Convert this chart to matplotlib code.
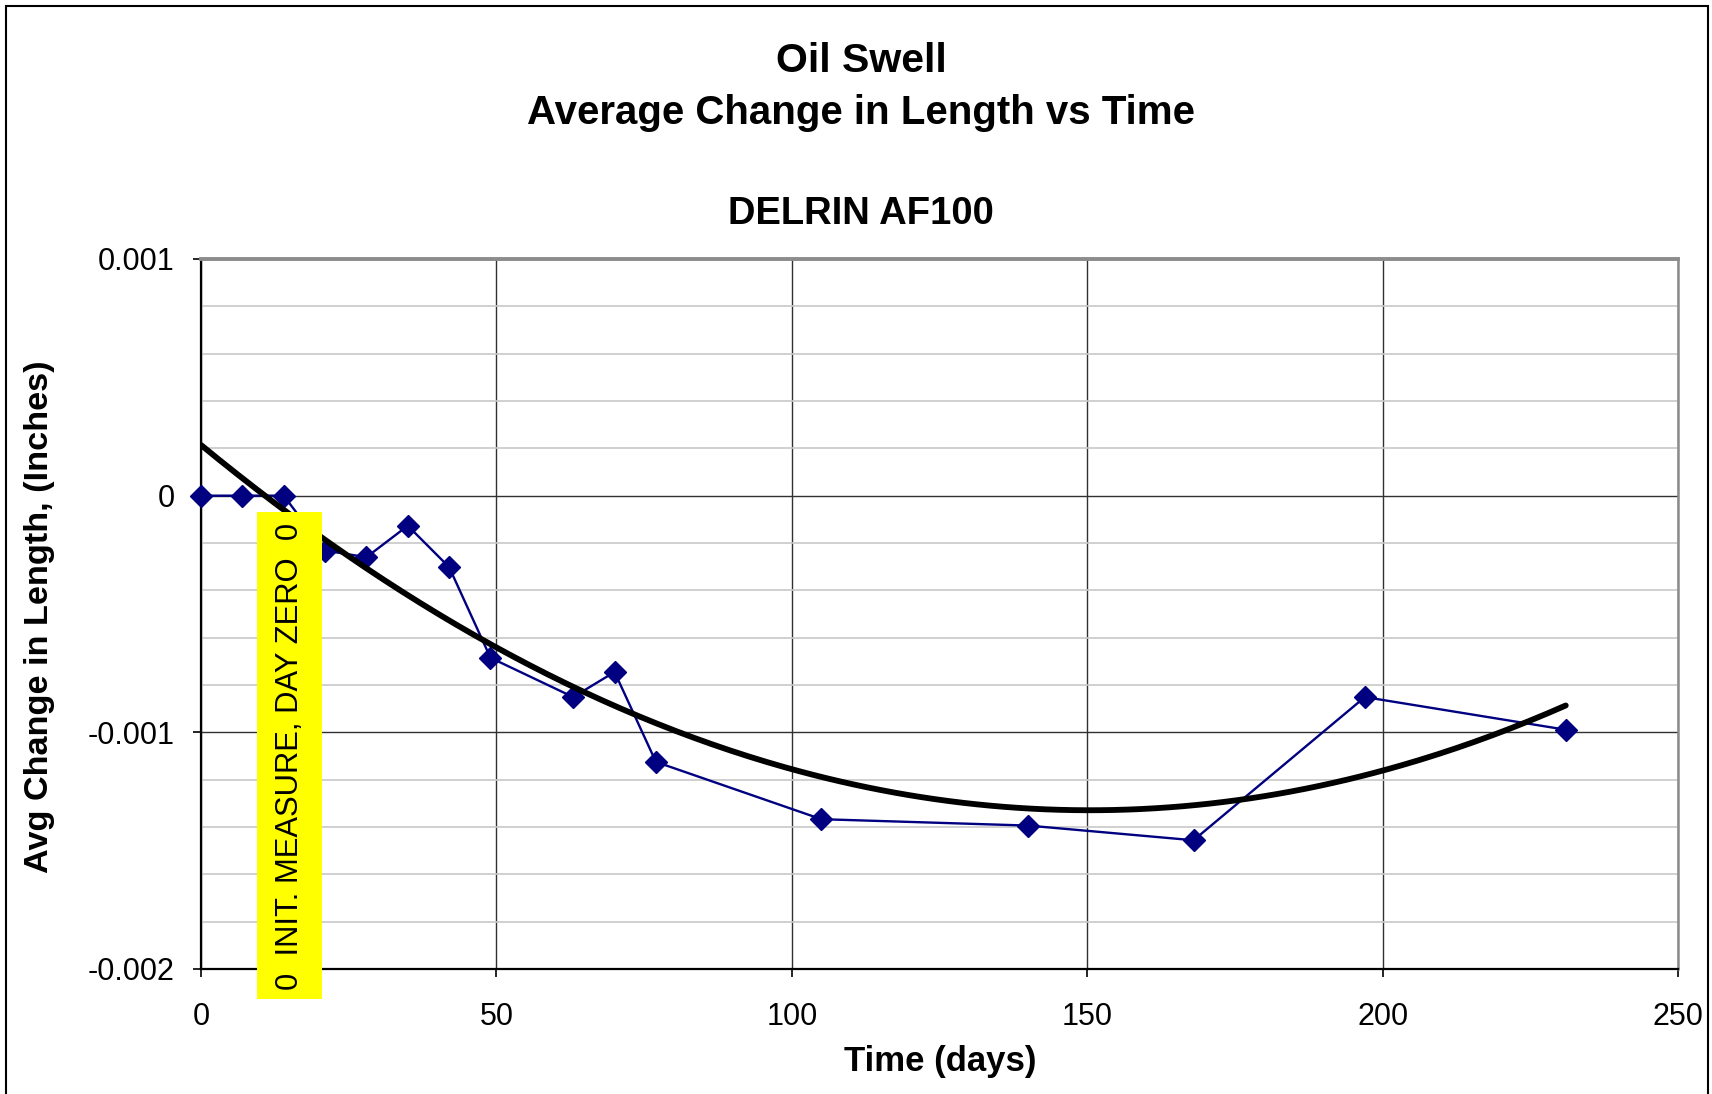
import numpy as np
import matplotlib
matplotlib.use("Agg")
import matplotlib.pyplot as plt
from matplotlib.ticker import FuncFormatter, MultipleLocator, FixedLocator
from matplotlib.patches import Rectangle

plt.rcParams['font.family'] = ['Liberation Sans', 'DejaVu Sans']
plt.rcParams['axes.unicode_minus'] = False

# ---- data ----
days = [0, 7, 14, 21, 28, 35, 42, 49, 63, 70, 77, 105, 140, 168, 197, 231]
avg_change = [0.0, 0.0, 0.0, -0.000232, -0.00026, -0.000127, -0.000302, -0.000685,
              -0.000851, -0.000745, -0.001125, -0.001367, -0.001394, -0.001456,
              -0.000851, -0.000989]
x_ticks = [0, 50, 100, 150, 200, 250]
y_ticks = [-0.002, -0.001, 0, 0.001]
title_lines = ["Oil Swell", "Average Change in Length vs Time"]
subtitle = "DELRIN AF100"
annotation = "0  INIT. MEASURE, DAY ZERO  0"

W, H = 1712, 1094
fig = plt.figure(figsize=(W / 100, H / 100), dpi=100)
fig.patch.set_facecolor('white')

l, r, t, b = 201, 1678, 259, 969
ax = fig.add_axes([l / W, 1 - b / H, (r - l) / W, (b - t) / H])
ax.set_xlim(0, 250)
ax.set_ylim(-0.002, 0.001)

# gridlines
ax.yaxis.set_minor_locator(MultipleLocator(0.0002))
ax.grid(which='minor', axis='y', color='#c8c8c8', lw=1.2, zorder=0)
ax.grid(which='major', axis='both', color='#303030', lw=1.0, zorder=0.5)
ax.set_axisbelow(True)
ax.xaxis.set_major_locator(FixedLocator(x_ticks))
ax.yaxis.set_major_locator(FixedLocator(y_ticks))
ax.yaxis.set_major_formatter(FuncFormatter(lambda v, p: '0' if abs(v) < 1e-12 else '{:g}'.format(v)))
ax.tick_params(axis='both', which='major', direction='out', length=6, width=1.2,
               labelsize=22, color='black')
ax.tick_params(axis='x', pad=18)
ax.tick_params(axis='y', pad=13)
ax.tick_params(which='minor', length=0)

for side in ['left', 'bottom']:
    ax.spines[side].set_color('black')
    ax.spines[side].set_linewidth(1.6)
ax.spines['top'].set_color('#8c8c8c')
ax.spines['top'].set_linewidth(2.8)
ax.spines['right'].set_color('#8c8c8c')
ax.spines['right'].set_linewidth(1.8)

# data series
ax.plot(days, avg_change, color='#000080', lw=1.7, marker='D', markersize=11.5,
        markerfacecolor='#000080', markeredgecolor='#000080', clip_on=False, zorder=3)

# polynomial (order 2) trendline fitted to the data
coef = np.polyfit(days, avg_change, 2)
xt = np.linspace(min(days), max(days), 300)
ax.plot(xt, np.polyval(coef, xt), color='black', lw=4.2, zorder=4, solid_capstyle='round')

# annotation text with a yellow box drawn around its extent
txt = ax.text(15, -0.0011, annotation, rotation=90, ha='center', va='center', fontsize=22.3,
              color='black', zorder=7, clip_on=False)

# titles and labels
fig.text(0.503, 1 - 61 / H, title_lines[0], ha='center', va='center', fontsize=29.5, fontweight='bold')
fig.text(0.503, 1 - 113 / H, title_lines[1], ha='center', va='center', fontsize=29, fontweight='bold')
fig.text(0.503, 1 - 214 / H, subtitle, ha='center', va='center', fontsize=27.5, fontweight='bold')
fig.text(940 / W, 1 - 1062 / H, "Time (days)", ha='center', va='center', fontsize=25, fontweight='bold')
fig.text(39.5 / W, 1 - 617 / H, "Avg Change in Length, (Inches)", ha='center', va='center',
         rotation=90, fontsize=24.7, fontweight='bold')

# outer chart border
fig.add_artist(Rectangle((6 / W, -0.02), (1708 - 6) / W, 1.02 - 6 / H, transform=fig.transFigure,
                         fill=False, edgecolor='black', lw=1.5))

fig.canvas.draw()
bb = txt.get_window_extent(fig.canvas.get_renderer())
# pixel padding (display coords, origin bottom-left)
pl, pr, pb, pt = 18, 17, 9, 10
rect = Rectangle((bb.x0 - pl, bb.y0 - pb), bb.width + pl + pr, bb.height + pb + pt,
                 transform=None, facecolor='#ffff00', edgecolor='none', zorder=6, clip_on=False)
ax.add_artist(rect)

fig.savefig('out.png', dpi=100, facecolor='white')
